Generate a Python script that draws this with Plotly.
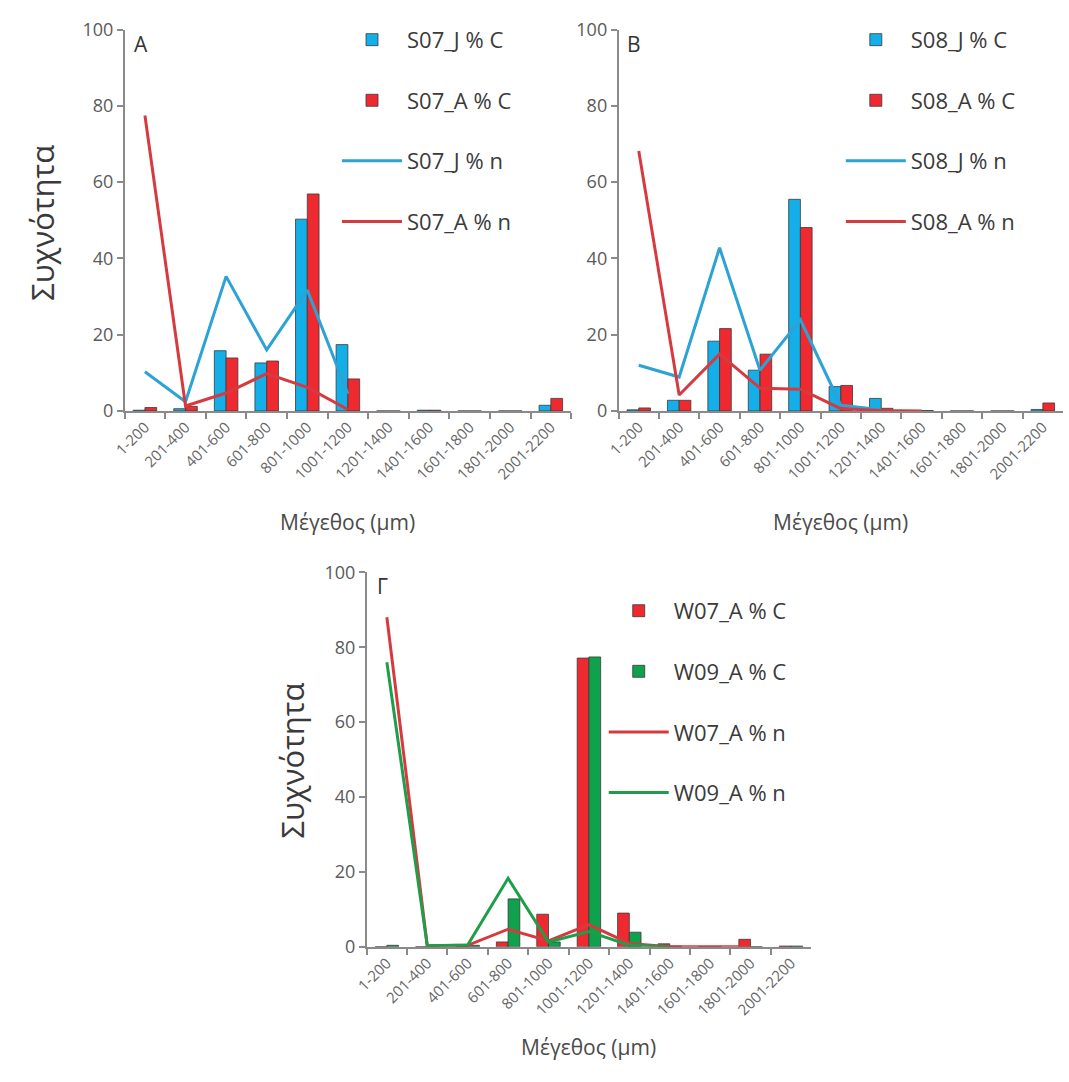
import plotly.graph_objects as go

# Size classes (μm)
sizes = ["1-200", "201-400", "401-600", "601-800", "801-1000", "1001-1200",
         "1201-1400", "1401-1600", "1601-1800", "1801-2000", "2001-2200"]

# Panel A — station S07
s07_j_c = [0.2, 0.6, 15.8, 12.6, 50.3, 17.4, 0.0, 0.2, 0.0, 0.0, 1.5]
s07_a_c = [0.9, 1.2, 13.9, 13.1, 56.9, 8.4, 0.0, 0.2, 0.0, 0.0, 3.3]
s07_j_n = [10.3, 2.4, 35.3, 16.0, 31.7, 4.5, None, None, None, None, None]
s07_a_n = [77.5, 1.3, 4.7, 9.8, 6.2, 0.4, None, None, None, None, None]

# Panel B — station S08
s08_j_c = [0.3, 2.8, 18.3, 10.7, 55.5, 6.4, 3.3, 0.0, 0.0, 0.0, 0.4]
s08_a_c = [0.8, 2.8, 21.6, 14.9, 48.1, 6.7, 0.7, 0.1, 0.0, 0.0, 2.1]
s08_j_n = [12.0, 8.9, 42.8, 10.7, 23.9, 1.5, 0.3, None, None, None, None]
s08_a_n = [68.2, 4.2, 14.9, 6.0, 5.7, 0.6, 0.1, 0.0, None, None, None]

# Panel Γ — stations W07 / W09
w07_a_c = [0.0, 0.0, 0.2, 1.3, 8.7, 77.1, 9.0, 0.8, 0.0, 2.0, 0.2]
w09_a_c = [0.4, 0.0, 0.4, 12.8, 1.3, 77.4, 3.9, 0.2, 0.0, 0.0, 0.2]
w07_a_n = [88.0, 0.3, 0.4, 4.7, 1.6, 5.9, 0.9, 0.0, 0.0, 0.0, None]
w09_a_n = [76.0, 0.3, 0.5, 18.3, 1.3, 4.1, 0.4, 0.0, None, None, None]

y_ticks = [0, 20, 40, 60, 80, 100]

BLUE_BAR = "#14AEE8"
RED_BAR = "#EE2A30"
GREEN_BAR = "#0FA14B"
BLUE_LINE = "#2CA3D4"
RED_LINE = "#D73A3E"
GREEN_LINE = "#1E9E4A"
AXIS = "#8A8A8A"
TEXT = "#555555"
FONT = "Open Sans"

W, H = 1069, 1082


def px_x(p):
    return p / W


def px_y(p):
    return 1 - p / H


fig = go.Figure()


def add_panel(idx, bars, lines, legend_name):
    xa = "x" if idx == 1 else f"x{idx}"
    ya = "y" if idx == 1 else f"y{idx}"
    for k, (name, vals, color) in enumerate(bars):
        fig.add_trace(go.Bar(
            x=sizes, y=vals, name=name, xaxis=xa, yaxis=ya,
            marker=dict(color=color, line=dict(color="#3a3a3a", width=0.8)),
            legend=legend_name, legendgroup=f"{legend_name}_b{k}",
        ))
    for k, (name, vals, color) in enumerate(lines):
        fig.add_trace(go.Scatter(
            x=sizes, y=vals, name=name, xaxis=xa, yaxis=ya, mode="lines",
            line=dict(color=color, width=3), connectgaps=False,
            legend=legend_name, legendgroup=f"{legend_name}_l{k}",
        ))


add_panel(1,
          [("S07_J % C", s07_j_c, BLUE_BAR), ("S07_A % C", s07_a_c, RED_BAR)],
          [("S07_J % n", s07_j_n, BLUE_LINE), ("S07_A % n", s07_a_n, RED_LINE)],
          "legend")
add_panel(2,
          [("S08_J % C", s08_j_c, BLUE_BAR), ("S08_A % C", s08_a_c, RED_BAR)],
          [("S08_J % n", s08_j_n, BLUE_LINE), ("S08_A % n", s08_a_n, RED_LINE)],
          "legend2")
add_panel(3,
          [("W07_A % C", w07_a_c, RED_BAR), ("W09_A % C", w09_a_c, GREEN_BAR)],
          [("W07_A % n", w07_a_n, RED_LINE), ("W09_A % n", w09_a_n, GREEN_LINE)],
          "legend3")

# Plot areas (pixel edges of each panel)
panels = {
    1: dict(x0=113, x1=565, y0=17, y1=407),
    2: dict(x0=613, x1=1063, y0=17, y1=407),
    3: dict(x0=358, x1=808, y0=572, y1=955),
}

layout = dict(
    width=W, height=H,
    margin=dict(l=0, r=0, t=0, b=0),
    paper_bgcolor="white", plot_bgcolor="white",
    barmode="group", bargap=0.42, bargroupgap=0.0,
    font=dict(family=FONT, color=TEXT),
    showlegend=True,
)

for idx, p in panels.items():
    xk = "xaxis" if idx == 1 else f"xaxis{idx}"
    yk = "yaxis" if idx == 1 else f"yaxis{idx}"
    ya = "y" if idx == 1 else f"y{idx}"
    xa = "x" if idx == 1 else f"x{idx}"
    layout[xk] = dict(
        domain=[px_x(p["x0"]), px_x(p["x1"])], anchor=ya,
        type="category", categoryorder="array", categoryarray=sizes,
        showline=True, linecolor=AXIS, linewidth=1.5,
        ticks="outside", tickson="boundaries", ticklen=6, tickwidth=1.5, tickcolor=AXIS,
        tickangle=-45, tickfont=dict(size=15, color="#666666", family=FONT),
        showgrid=False, zeroline=False, fixedrange=True,
    )
    layout[yk] = dict(
        domain=[px_y(p["y1"]), px_y(p["y0"])], anchor=xa,
        range=[0, 100], tickvals=y_ticks,
        showline=True, linecolor=AXIS, linewidth=1.5,
        ticks="outside", ticklen=6, tickwidth=1.5, tickcolor=AXIS,
        tickfont=dict(size=18, color="#5a5a5a", family=FONT),
        showgrid=False, zeroline=False, fixedrange=True,
    )

legend_common = dict(
    font=dict(size=22, color="#3a3a3a", family=FONT),
    bgcolor="rgba(0,0,0,0)", tracegroupgap=29, itemwidth=60,
    xanchor="left", yanchor="top", traceorder="grouped",
)
layout["legend"] = dict(x=px_x(328), y=px_y(6), **legend_common)
layout["legend2"] = dict(x=px_x(838), y=px_y(6), **legend_common)
layout["legend3"] = dict(x=px_x(598), y=px_y(590), **legend_common)

annotations = []
# Panel letters
for letter, (ax, ay) in {"A": (120, 32), "B": (620, 32), "Γ": (366, 586)}.items():
    annotations.append(dict(text=letter, x=px_x(ax), y=px_y(ay), xref="paper", yref="paper",
                            xanchor="left", yanchor="middle", showarrow=False,
                            font=dict(size=21, color="#333333", family=FONT)))
# Axis titles
for cx, cy in [(30, 215), (282, 765)]:
    annotations.append(dict(text="Συχνότητα", x=px_x(cx), y=px_y(cy), xref="paper", yref="paper",
                            textangle=-90, showarrow=False, xanchor="center", yanchor="middle",
                            font=dict(size=31, color="#3a3a3a", family=FONT)))
for cx, cy in [(339, 521), (838, 521), (583, 1057)]:
    annotations.append(dict(text="Μέγεθος (μm)", x=px_x(cx), y=px_y(cy), xref="paper", yref="paper",
                            showarrow=False, xanchor="center", yanchor="middle",
                            font=dict(size=21, color="#4a4a4a", family=FONT)))
layout["annotations"] = annotations

fig.update_layout(**layout)
fig.write_html("out.html")
